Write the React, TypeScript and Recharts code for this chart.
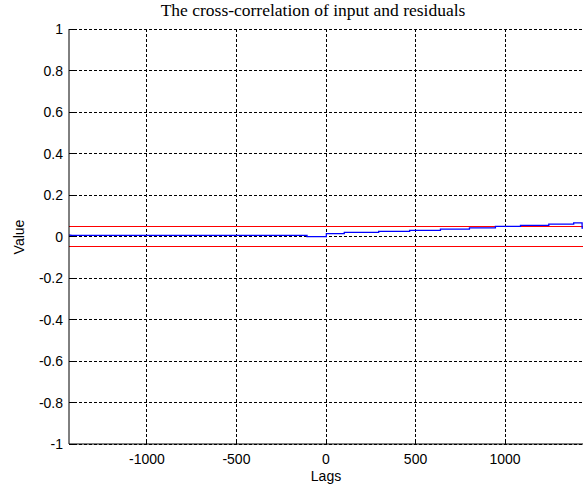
import React from 'react';
import { LineChart, Line, XAxis, YAxis, CartesianGrid, ReferenceLine } from 'recharts';

const lags = [-1435, -1425, -106, 2, 102, 294, 467, 639, 801, 946, 1086, 1244, 1383, 1430, 1435];
const values = [0.007, 0.005, -0.001, 0.0135, 0.02, 0.025, 0.03, 0.036, 0.042, 0.049, 0.054, 0.06, 0.066, 0.04, 0.04];
const xTicks = [-1000, -500, 0, 500, 1000];
const yTicks = [-1, -0.8, -0.6, -0.4, -0.2, 0, 0.2, 0.4, 0.6, 0.8, 1];
const confBound = 0.05;
const xDomain = [-1435, 1435];
const yDomain = [-1, 1];

const data = lags.map((lag, i) => ({ lag, value: values[i] }));

const TICK_FONT = '"Liberation Sans", Arial, sans-serif';

const fmt = (v: number) => String(Math.round(v * 10) / 10);

const BottomTick = (props: any) => {
  const { x, y, payload } = props;
  return (
    <g>
      <line x1={x} y1={y} x2={x} y2={y - 5} stroke="#000" shapeRendering="crispEdges" />
      <text x={x} y={y + 20} textAnchor="middle" fontSize={14} fontFamily={TICK_FONT} fill="#000">
        {fmt(payload.value)}
      </text>
    </g>
  );
};
const TopTick = (props: any) => {
  const { x, y } = props;
  return <line x1={x} y1={y} x2={x} y2={y + 5} stroke="#000" shapeRendering="crispEdges" />;
};
const LeftTick = (props: any) => {
  const { x, y, payload } = props;
  return (
    <g>
      <line x1={x} y1={y} x2={x + 5} y2={y} stroke="#000" shapeRendering="crispEdges" />
      <text x={x - 6} y={y + 5} textAnchor="end" fontSize={14} fontFamily={TICK_FONT} fill="#000">
        {fmt(payload.value)}
      </text>
    </g>
  );
};
const RightTick = (props: any) => {
  const { x, y } = props;
  return <line x1={x} y1={y} x2={x - 5} y2={y} stroke="#000" shapeRendering="crispEdges" />;
};

export default function App() {
  return (
    <div style={{ position: 'absolute', left: 0, top: 0, width: 586, height: 491, background: '#fff' }}>
      <LineChart width={586} height={491} data={data} margin={{ top: 29, right: 3, bottom: 0, left: 0 }}>
        <CartesianGrid xAxisId="b" yAxisId="l" stroke="#000" strokeDasharray="3 2" horizontalValues={yTicks} verticalValues={xTicks} shapeRendering="crispEdges" />
        <XAxis xAxisId="b" dataKey="lag" type="number" domain={xDomain} ticks={xTicks} allowDataOverflow
          height={47} tickSize={0} tickMargin={0} tickLine={false} tick={<BottomTick />} axisLine={{ stroke: '#000' }} interval={0} />
        <XAxis xAxisId="t" dataKey="lag" type="number" orientation="top" domain={xDomain} ticks={xTicks} allowDataOverflow
          height={0} tickSize={0} tickMargin={0} tickLine={false} tick={<TopTick />} axisLine={{ stroke: '#000' }} interval={0} />
        <YAxis yAxisId="l" type="number" domain={yDomain} ticks={yTicks} allowDataOverflow
          width={69} tickSize={0} tickMargin={0} tickLine={false} tick={<LeftTick />} axisLine={{ stroke: '#000' }} interval={0} />
        <YAxis yAxisId="r" type="number" orientation="right" domain={yDomain} ticks={yTicks} allowDataOverflow
          width={0} tickSize={0} tickMargin={0} tickLine={false} tick={<RightTick />} axisLine={{ stroke: '#000' }} interval={0} />
        <ReferenceLine xAxisId="b" yAxisId="l" y={confBound} stroke="#ff0000" strokeWidth={1} shapeRendering="crispEdges" />
        <ReferenceLine xAxisId="b" yAxisId="l" y={-confBound} stroke="#ff0000" strokeWidth={1} shapeRendering="crispEdges" />
        <Line xAxisId="b" yAxisId="l" type="stepAfter" dataKey="value" stroke="#0000ff" strokeWidth={1.3} dot={false} isAnimationActive={false} />
      </LineChart>
      <div style={{ position: 'absolute', left: 0, width: 626, top: 0, textAlign: 'center', fontFamily: '"Liberation Serif", "Times New Roman", serif', fontSize: 17.5, color: '#000', whiteSpace: 'nowrap' }}>
        The cross-correlation of input and residuals
      </div>
      <div style={{ position: 'absolute', left: 0, width: 652, top: 468, textAlign: 'center', fontFamily: TICK_FONT, fontSize: 14, color: '#000' }}>
        Lags
      </div>
      <div style={{ position: 'absolute', left: 19, top: 237, transform: 'translate(-50%, -50%) rotate(-90deg)', fontFamily: TICK_FONT, fontSize: 14, color: '#000', whiteSpace: 'nowrap' }}>
        Value
      </div>
    </div>
  );
}
